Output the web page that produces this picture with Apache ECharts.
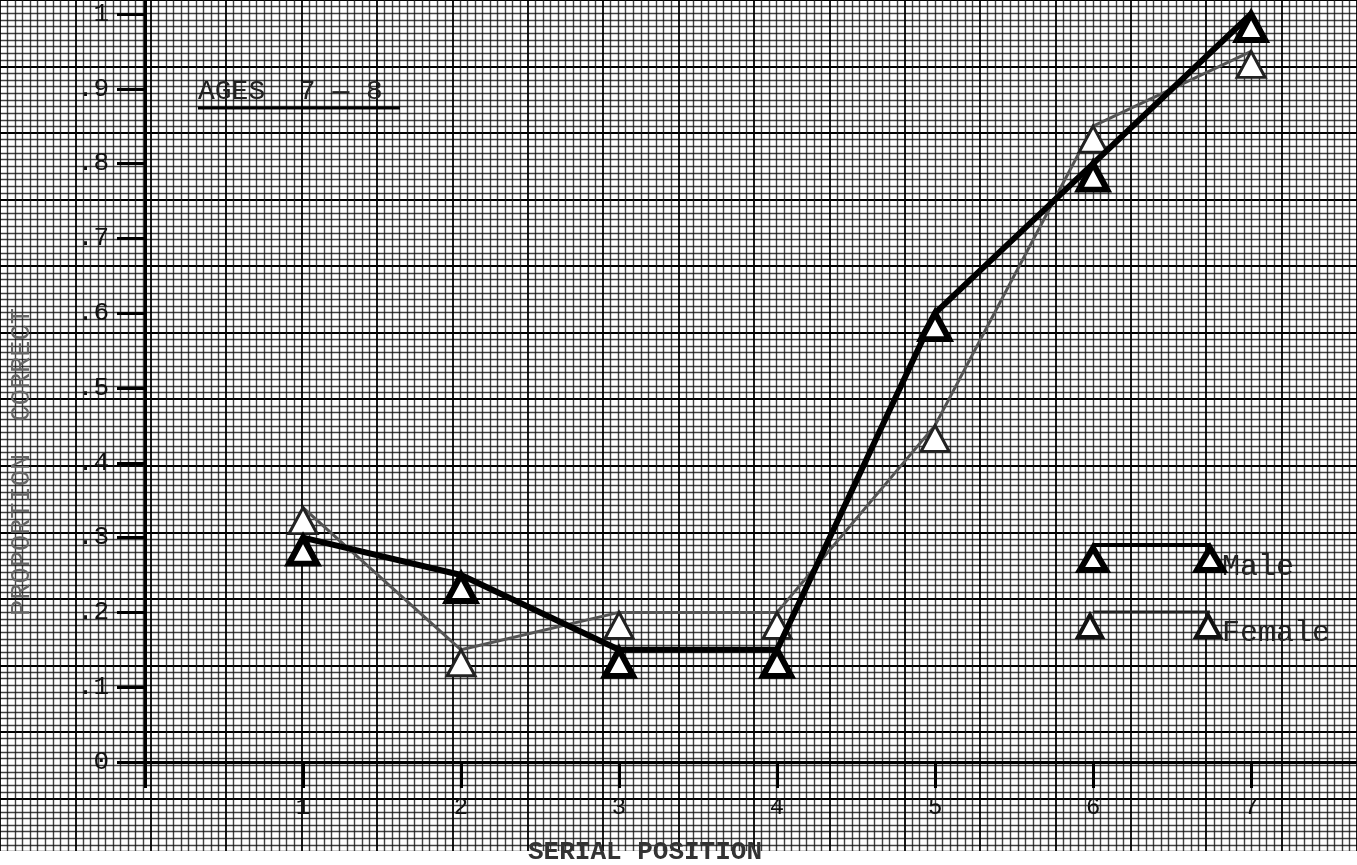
<!DOCTYPE html>
<html>
<head>
<meta charset="utf-8">
<script src="https://cdn.jsdelivr.net/npm/echarts@6/dist/echarts.min.js"></script>
<style>
html,body{margin:0;padding:0;background:#fff;}
#c{width:1357px;height:865px;}
</style>
</head>
<body>
<div id="c"></div>
<script>
// ---- data ----
var positions = [1, 2, 3, 4, 5, 6, 7];
var maleValues = [0.30, 0.25, 0.15, 0.15, 0.60, 0.80, 1.00];
var femaleValues = [0.34, 0.15, 0.20, 0.20, 0.45, 0.85, 0.95];
var yTickLabels = {0: '0', 1: '.1', 2: '.2', 3: '.3', 4: '.4', 5: '.5', 6: '.6', 7: '.7', 8: '.8', 9: '.9', 10: '1'};
var xTickLabels = ['1', '2', '3', '4', '5', '6', '7'];
var seriesNames = ['Male', 'Female'];
var titleText = 'AGES  7 \u2014 8';
var xTitle = 'SERIAL POSITION';
var yTitle = 'PROPORTION  CORRECT';

function pairs(vals) { return positions.map(function (p, i) { return [p, vals[i]]; }); }

var FONT = '"Liberation Mono", "DejaVu Sans Mono", monospace';
var chart = echarts.init(document.getElementById('c'), null, { renderer: 'canvas' });

var triSize = [28, 26];
var option = {
  backgroundColor: '#fff',
  animation: false,
  grid: [
    { left: 145, right: 0, top: 0, bottom: 103, containLabel: false },
    // background graph paper grid
    { left: -13, width: 1422, top: -60.8, bottom: -46.6, containLabel: false, z: 0 }
  ],
  xAxis: [
    {
      type: 'value', gridIndex: 0, min: 0, max: 7.67, interval: 1, z: 5,
      axisLine: { show: true, onZero: false, lineStyle: { color: '#000', width: 3 } },
      axisTick: { show: true, inside: false, length: 26, lineStyle: { color: '#000', width: 3 } },
      axisLabel: {
        margin: 34, color: '#111', fontFamily: FONT, fontSize: 24,
        showMaxLabel: false,
        formatter: function (v) { var i = Math.round(v); return (i >= 1 && i <= 7) ? xTickLabels[i - 1] : ''; }
      },
      splitLine: { show: false }
    },
    {
      type: 'value', gridIndex: 1, min: -1, max: 8, interval: 0.5, z: 0,
      axisLine: { show: false }, axisTick: { show: false }, axisLabel: { show: false },
      splitLine: { show: true, lineStyle: { color: '#000', width: 1.8 } },
      minorTick: { show: false, splitNumber: 10 },
      minorSplitLine: { show: true, lineStyle: { color: '#111', width: 1.4, opacity: 0.8 } }
    }
  ],
  yAxis: [
    {
      type: 'value', gridIndex: 0, min: 0, max: 1.0187, interval: 0.1, z: 5,
      axisLine: { show: true, onZero: false, lineStyle: { color: '#000', width: 3 } },
      axisTick: { show: true, inside: false, length: 28, lineStyle: { color: '#000', width: 3 } },
      axisLabel: {
        margin: 36, color: '#111', fontFamily: FONT, fontSize: 26,
        showMaxLabel: false,
        formatter: function (v) { var k = Math.round(v * 10); return yTickLabels[k] !== undefined ? yTickLabels[k] : ''; }
      },
      splitLine: { show: false }
    },
    {
      type: 'value', gridIndex: 1, min: -0.2, max: 1.1, interval: 0.1, z: 0,
      axisLine: { show: false }, axisTick: { show: false }, axisLabel: { show: false },
      splitLine: { show: true, lineStyle: { color: '#000', width: 1.8 } },
      minorTick: { show: false, splitNumber: 10 },
      minorSplitLine: { show: true, lineStyle: { color: '#111', width: 1.4, opacity: 0.8 } }
    }
  ],
  series: [
    {
      name: seriesNames[1], type: 'line', xAxisIndex: 0, yAxisIndex: 0, z: 10,
      data: pairs(femaleValues),
      lineStyle: { color: '#555', width: 3 },
      symbol: 'triangle', symbolSize: triSize, symbolOffset: [0, '50%'],
      itemStyle: { color: '#fff', borderColor: '#222', borderWidth: 3 }
    },
    {
      name: seriesNames[0], type: 'line', xAxisIndex: 0, yAxisIndex: 0, z: 11,
      data: pairs(maleValues),
      lineStyle: { color: '#000', width: 6 },
      symbol: 'triangle', symbolSize: triSize, symbolOffset: [0, '50%'],
      itemStyle: { color: '#fff', borderColor: '#000', borderWidth: 6 }
    }
  ],
  graphic: [
    // white margin below paper
    { type: 'rect', z: 1, shape: { x: 0, y: 851, width: 1357, height: 20 }, style: { fill: '#fff' } },
    // title
    { type: 'text', z: 20, x: 198, y: 92, style: { text: titleText, font: '28px ' + FONT, fill: '#222', verticalAlign: 'middle' } },
    { type: 'line', z: 20, shape: { x1: 198, y1: 108, x2: 400, y2: 108 }, style: { stroke: '#000', lineWidth: 3 } },
    // axis titles
    { type: 'text', z: 20, x: 22, y: 462, rotation: Math.PI / 2, style: { text: yTitle, font: '27px ' + FONT, fill: '#666', align: 'center', verticalAlign: 'middle' } },
    { type: 'text', z: 20, x: 645, y: 852, style: { text: xTitle, font: 'bold 26px ' + FONT, fill: '#333', align: 'center', verticalAlign: 'middle' } },
    // legend: male
    { type: 'line', z: 20, shape: { x1: 1093, y1: 545, x2: 1210, y2: 545 }, style: { stroke: '#000', lineWidth: 4 } },
    { type: 'polygon', z: 21, shape: { points: [[1093, 548], [1080, 570], [1106, 570]] }, style: { fill: '#fff', stroke: '#000', lineWidth: 6 } },
    { type: 'polygon', z: 21, shape: { points: [[1210, 548], [1197, 570], [1223, 570]] }, style: { fill: '#fff', stroke: '#000', lineWidth: 6 } },
    { type: 'text', z: 20, x: 1222, y: 567, style: { text: seriesNames[0], font: '30px ' + FONT, fill: '#222', verticalAlign: 'middle' } },
    // legend: female
    { type: 'line', z: 20, shape: { x1: 1093, y1: 612, x2: 1210, y2: 612 }, style: { stroke: '#222', lineWidth: 3 } },
    { type: 'polygon', z: 21, shape: { points: [[1090, 615], [1078, 637], [1102, 637]] }, style: { fill: '#fff', stroke: '#111', lineWidth: 4 } },
    { type: 'polygon', z: 21, shape: { points: [[1208, 615], [1196, 637], [1220, 637]] }, style: { fill: '#fff', stroke: '#111', lineWidth: 4 } },
    { type: 'text', z: 20, x: 1222, y: 633, style: { text: seriesNames[1], font: '30px ' + FONT, fill: '#222', verticalAlign: 'middle' } }
  ]
};
chart.setOption(option);
</script>
</body>
</html>
